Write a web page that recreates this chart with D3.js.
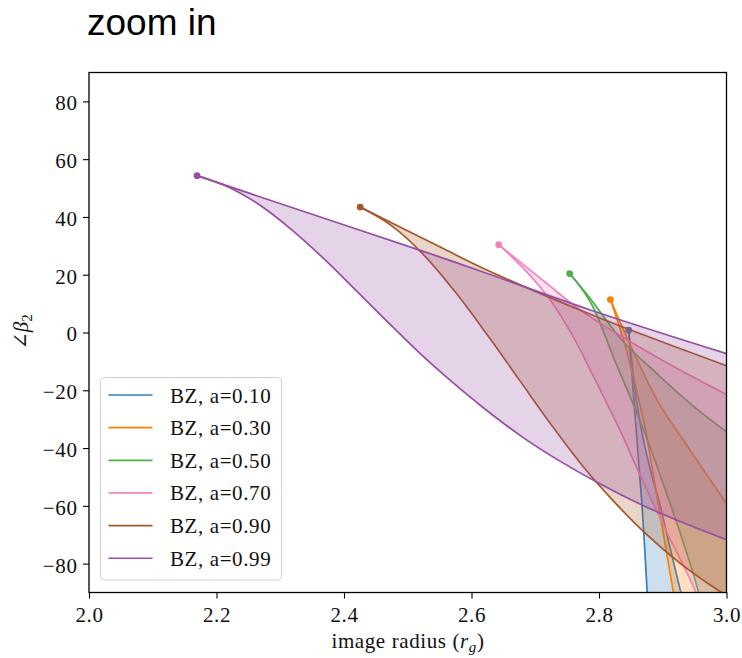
<!DOCTYPE html>
<html>
<head>
<meta charset="utf-8">
<script src="https://cdn.jsdelivr.net/npm/d3@7"></script>
<style>
  html, body { margin: 0; padding: 0; background: #fff; }
  svg { display: block; }
  .serif { font-family: "Liberation Serif", "DejaVu Serif", serif; }
</style>
</head>
<body>
<svg id="chart" width="742" height="658"></svg>
<script>
// Spin values of the BZ jet models and their colours
const spinLabels = ["0.10", "0.30", "0.50", "0.70", "0.90", "0.99"];
const seriesColors = ["#377eb8", "#ff7f00", "#4daf4a", "#f781bf", "#a65628", "#984ea3"];

// Axis ticks
const xTickValues = [2.0, 2.2, 2.4, 2.6, 2.8, 3.0];
const yTickValues = [-80, -60, -40, -20, 0, 20, 40, 60, 80];

// Upper branch of each band: [image radius, angle], starting at the band tip
const upperBZ010 = [[2.8466, 0.8], [2.8540, -15], [2.8650, -32], [2.8800, -47], [2.8960, -60], [2.9120, -75], [2.9280, -89.6], [2.9320, -93]];
const upperBZ030 = [[2.8179, 11.4], [2.8493, -4.4], [2.8917, -23.6], [2.9435, -40.9], [3.0, -59.2]];
const upperBZ050 = [[2.7540, 20.4], [2.7865, 11.7], [2.8384, -3.3], [2.8908, -14.2], [2.9432, -24.6], [3.0, -34.4]];
const upperBZ070 = [[2.6426, 30.4], [2.7185, 16.9], [2.7708, 7.7], [2.8493, -3.2], [2.9278, -13.1], [3.0, -21.5]];
const upperBZ090 = [[2.4254, 43.4], [2.5510, 29.6], [2.6138, 22.7], [2.7865, 6.3], [3.0, -11.5]];
const upperBZ099 = [[2.1695, 54.3], [2.3312, 42.3], [2.5243, 28.1], [2.6138, 21.3], [2.7865, 7.8], [3.0, -7.3]];

// Lower branch of each band, starting at the same tip
const lowerBZ010 = [[2.8466, 0.8], [2.8571, -30.3], [2.8676, -60.2], [2.8755, -89.6], [2.8765, -93]];
const lowerBZ030 = [[2.8179, 11.4], [2.8430, -6.1], [2.8697, -30.3], [2.8932, -59.7], [2.9168, -90.1], [2.9200, -94]];
const lowerBZ050 = [[2.7540, 20.4], [2.7865, 10.5], [2.8257, -10.2], [2.8650, -31.0], [2.9042, -54.5], [2.9435, -80.4], [2.9560, -89.7], [2.9600, -93]];
const lowerBZ070 = [[2.6426, 30.4], [2.6845, 21.5], [2.7237, 11.2], [2.7582, -0.9], [2.7928, -15.8], [2.8289, -32.0], [2.8728, -53.4], [2.9121, -71.7], [2.9513, -89.7], [2.9560, -94]];
const lowerBZ090 = [[2.4254, 43.4], [2.475, 36.9], [2.525, 26.9], [2.575, 13.9], [2.625, -0.9], [2.675, -16.4], [2.725, -31.9], [2.775, -46.4], [2.825, -58.9], [2.875, -70.0], [2.925, -79.5], [2.975, -87.5], [3.0, -91.0]];
const lowerBZ099 = [[2.1695, 54.3], [2.22, 50.2], [2.27, 43.8], [2.32, 35.2], [2.37, 25.2], [2.42, 14.3], [2.47, 3.3], [2.52, -7.4], [2.57, -17.2], [2.62, -26.3], [2.68, -36.2], [2.74, -44.7], [2.80, -52.2], [2.87, -60.0], [2.935, -66.1], [3.0, -71.7]];

const upperBranches = [upperBZ010, upperBZ030, upperBZ050, upperBZ070, upperBZ090, upperBZ099];
const lowerBranches = [lowerBZ010, lowerBZ030, lowerBZ050, lowerBZ070, lowerBZ090, lowerBZ099];

// Layout
const plot = { left: 89, right: 726.5, top: 72.5, bottom: 592.5 };
const svg = d3.select("#chart");

const x = d3.scaleLinear().domain([2.0, 3.0]).range([plot.left, plot.right]);
const y = d3.scaleLinear().domain([-90, 90]).range([plot.bottom, plot.top]);

// Title
svg.append("text")
  .attr("x", 87).attr("y", 35)
  .style("font-family", "'Liberation Sans', Arial, sans-serif")
  .style("font-size", "37px")
  .attr("fill", "#000")
  .text("zoom in");

svg.append("defs").append("clipPath").attr("id", "plot-clip")
  .append("rect")
  .attr("x", plot.left).attr("y", plot.top)
  .attr("width", plot.right - plot.left).attr("height", plot.bottom - plot.top);

const lineGen = d3.line()
  .x(d => x(d[0])).y(d => y(d[1]))
  .curve(d3.curveCatmullRom.alpha(0.5));

// Closed outline of a band: upper branch, out past the lower-right corner, back along the lower branch
function bandPath(upper, lower) {
  const cx = x(x.domain()[1] + 0.05), cy = y(y.domain()[0] - 5);
  const a = lineGen(upper);
  const b = lineGen(lower.slice().reverse());
  return a + "L" + cx + "," + cy + "L" + b.slice(1) + "Z";
}

const bands = svg.append("g").attr("clip-path", "url(#plot-clip)");

spinLabels.forEach((s, i) => {
  const g = bands.append("g");
  const c = seriesColors[i];
  g.append("path")
    .attr("d", bandPath(upperBranches[i], lowerBranches[i]))
    .attr("fill", c).attr("fill-opacity", 0.25).attr("stroke", "none");
  [upperBranches[i], lowerBranches[i]].forEach(br => {
    g.append("path")
      .attr("d", lineGen(br))
      .attr("fill", "none").attr("stroke", c)
      .attr("stroke-width", 1.7).attr("stroke-linejoin", "round");
  });
  const tip = upperBranches[i][0];
  g.append("circle")
    .attr("cx", x(tip[0])).attr("cy", y(tip[1])).attr("r", 3.4)
    .attr("fill", c);
});

// Axes
const tickFont = g => g.selectAll("text")
  .attr("class", "serif")
  .style("font-size", "21px")
  .style("letter-spacing", "0.6px")
  .attr("fill", "#111");

const xAxis = svg.append("g")
  .attr("transform", `translate(0,${plot.bottom})`)
  .call(d3.axisBottom(x).tickValues(xTickValues).tickFormat(d3.format(".1f"))
    .tickSize(6).tickSizeOuter(0).tickPadding(9));
xAxis.select(".domain").remove();
xAxis.selectAll("line").attr("stroke", "#000").attr("stroke-width", 1.1);
xAxis.call(tickFont);

const yAxis = svg.append("g")
  .attr("transform", `translate(${plot.left},0)`)
  .call(d3.axisLeft(y).tickValues(yTickValues).tickFormat(d3.format("d"))
    .tickSize(6).tickSizeOuter(0).tickPadding(5.5));
yAxis.select(".domain").remove();
yAxis.selectAll("line").attr("stroke", "#000").attr("stroke-width", 1.1);
yAxis.call(tickFont);
yAxis.selectAll("text").attr("dy", "0.4em");

// Frame
svg.append("rect")
  .attr("x", plot.left).attr("y", plot.top)
  .attr("width", plot.right - plot.left).attr("height", plot.bottom - plot.top)
  .attr("fill", "none").attr("stroke", "#000").attr("stroke-width", 1.3);

// Axis titles
const xTitle = svg.append("text")
  .attr("class", "serif")
  .attr("x", 408).attr("y", 648)
  .attr("text-anchor", "middle")
  .style("font-size", "21px").style("letter-spacing", "0.6px")
  .attr("fill", "#111");
xTitle.append("tspan").text("image radius (");
xTitle.append("tspan").style("font-style", "italic").text("r");
xTitle.append("tspan").attr("dy", 4).style("font-size", "15px").style("font-style", "italic").text("g");
xTitle.append("tspan").attr("dy", -4).text(")");

const yTitle = svg.append("text")
  .attr("class", "serif")
  .attr("transform", "translate(28,332) rotate(-90)")
  .attr("text-anchor", "middle")
  .style("font-size", "21px")
  .attr("fill", "#111");
yTitle.append("tspan").text("∠");
yTitle.append("tspan").style("font-style", "italic").text("β");
yTitle.append("tspan").attr("dy", 4).style("font-size", "15px").text("2");

// Legend
const legend = svg.append("g");
legend.append("rect")
  .attr("x", 100.5).attr("y", 377.5).attr("width", 181).attr("height", 202.5)
  .attr("rx", 4).attr("ry", 4)
  .attr("fill", "#fff").attr("fill-opacity", 0.8)
  .attr("stroke", "#d0d0d0").attr("stroke-width", 1);

spinLabels.forEach((s, i) => {
  const ly = 395 + i * 32.65;
  legend.append("line")
    .attr("x1", 108.5).attr("x2", 152.5).attr("y1", ly).attr("y2", ly)
    .attr("stroke", seriesColors[i]).attr("stroke-width", 1.7);
  legend.append("text")
    .attr("class", "serif")
    .attr("x", 170).attr("y", ly + 7.5)
    .style("font-size", "21px").style("letter-spacing", "0.6px")
    .attr("fill", "#111")
    .text(`BZ, a=${s}`);
});
</script>
</body>
</html>
